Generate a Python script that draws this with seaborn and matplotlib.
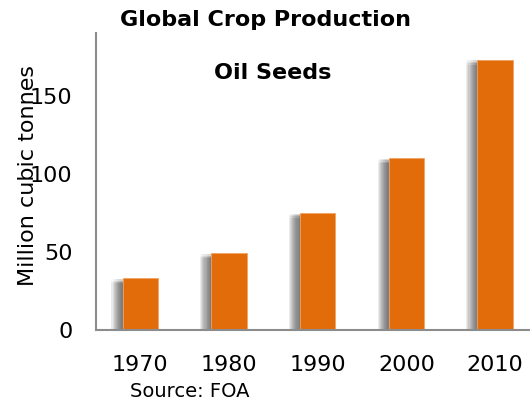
import matplotlib
matplotlib.use("Agg")
import matplotlib.pyplot as plt
import matplotlib.patheffects as pe
import numpy as np
import pandas as pd
import seaborn as sns

# values
years = ["1970", "1980", "1990", "2000", "2010"]
production = [33, 49, 75, 110, 173]

df = pd.DataFrame({"year": years, "production": production})

sns.set_style("white")
plt.rcParams["font.family"] = ["DejaVu Sans"]
plt.rcParams["text.color"] = "black"
plt.rcParams["xtick.color"] = "black"
plt.rcParams["ytick.color"] = "black"
plt.rcParams["axes.labelcolor"] = "black"

fig = plt.figure(figsize=(5.3, 4.04), dpi=100)
ax = fig.add_axes([0.181, 0.183, 0.837, 0.735])

sns.barplot(data=df, x="year", y="production", color="#E36C0A",
            saturation=1, width=0.4, ax=ax, edgecolor="#F2A261", linewidth=0.6)

# soft grey shadow on the left of each bar (stacked faint copies ~ blur)
shadow = []
for dx in np.linspace(1.0, 8.0, 10):
    for dy in np.linspace(-0.5, -3.5, 4):
        shadow.append(pe.SimplePatchShadow(offset=(-dx, dy), shadow_rgbFace="#505050",
                                           alpha=0.028))
for bar in ax.patches:
    bar.set_path_effects(shadow + [pe.Normal()])

ax.set_ylim(0, 190)
ax.set_xlim(-0.5, 4.5)
ax.set_yticks([0, 50, 100, 150])
ax.tick_params(axis="y", length=0, pad=17, labelsize=16)

# tick marks between categories, labels under the bars
ax.set_xticks(np.arange(-0.5, 5, 1.0))
ax.set_xticklabels([])
ax.set_xticks(range(len(years)), minor=True)
ax.set_xticklabels(years, minor=True)
ax.tick_params(axis="x", which="major", length=7, width=1.5, color="#8c8c8c", direction="out")
ax.tick_params(axis="x", which="minor", length=0, pad=18, labelsize=16)

for side in ["top", "right"]:
    ax.spines[side].set_visible(False)
for side in ["left", "bottom"]:
    ax.spines[side].set_color("#8c8c8c")
    ax.spines[side].set_linewidth(1.5)

ax.set_xlabel("")
ax.set_ylabel("Million cubic tonnes", fontsize=16)
ax.yaxis.set_label_coords(-0.13, 0.52)

fig.text(0.5, 0.95, "Global Crop Production", ha="center", va="center",
         fontsize=16, fontweight="bold")
fig.text(0.515, 0.82, "Oil Seeds", ha="center", va="center",
         fontsize=16, fontweight="bold")
fig.text(0.245, 0.03, "Source: FOA", ha="left", va="center", fontsize=14)

fig.savefig("out.png", dpi=100)
